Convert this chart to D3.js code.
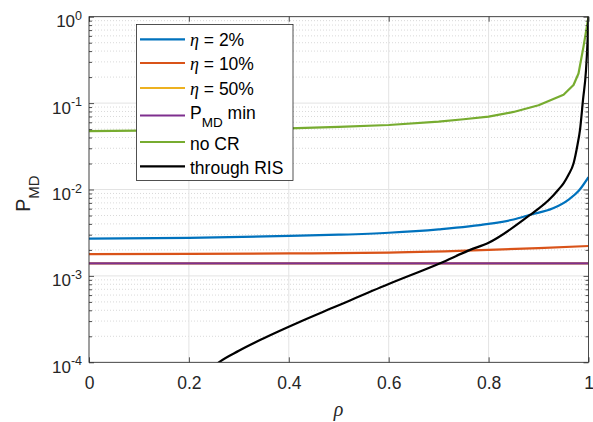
<!DOCTYPE html>
<html><head><meta charset="utf-8">
<script src="https://cdn.jsdelivr.net/npm/d3@7/dist/d3.min.js"></script>
<style>body{margin:0;background:#fff}svg{display:block}</style>
</head><body>
<svg id="c" width="593" height="422"></svg>
<script>
// ---- data ----
const rhoNoCR  = [0, 0.1, 0.2, 0.3, 0.4, 0.5, 0.6, 0.7, 0.75, 0.8, 0.85, 0.9, 0.95, 0.97, 0.98, 0.99, 1.0];
const valNoCR  = [0.0475, 0.048, 0.049, 0.050, 0.051, 0.053, 0.0558, 0.061, 0.065, 0.0696, 0.079, 0.0945, 0.125, 0.162, 0.22, 0.45, 1.0];

const rhoEta2  = [0, 0.2, 0.4, 0.5, 0.6, 0.7, 0.8, 0.85, 0.883, 0.929, 0.961, 0.98, 1.0];
const valEta2  = [0.0027, 0.00275, 0.0029, 0.0030, 0.00316, 0.00346, 0.0040, 0.0045, 0.0051, 0.00605, 0.0077, 0.0096, 0.0139];

const rhoEta10 = [0, 0.2, 0.4, 0.6, 0.8, 0.9, 1.0];
const valEta10 = [0.00179, 0.0018, 0.00182, 0.00186, 0.0020, 0.0021, 0.00222];

const rhoEta50 = [0, 1.0];
const valEta50 = [0.0014, 0.0014];

const rhoMin   = [0, 1.0];
const valMin   = [0.0014, 0.0014];

const rhoRIS   = [0.25, 0.26, 0.3, 0.35, 0.4226, 0.489, 0.6, 0.703, 0.763, 0.8, 0.883, 0.9, 0.92, 0.94, 0.95, 0.96, 0.97, 0.978, 0.983, 0.989, 0.995, 0.998, 1.0];
const valRIS   = [0.9e-4, 1.0e-4, 1.36e-4, 1.9e-4, 2.95e-4, 4.3e-4, 8.05e-4, 1.4e-3, 2.0e-3, 2.42e-3, 5.07e-3, 6.0e-3, 7.5e-3, 1.0e-2, 1.18e-2, 1.48e-2, 2.0e-2, 3.3e-2, 4.9e-2, 0.109, 0.24, 0.5, 1.0];

const xTicks = [0, 0.2, 0.4, 0.6, 0.8, 1];
const xTickLabels = ["0", "0.2", "0.4", "0.6", "0.8", "1"];
const yTicks = [1e-4, 1e-3, 1e-2, 1e-1, 1];
const yTickExps = ["-4", "-3", "-2", "-1", "0"];

const seriesNames = ["η = 2%", "η = 10%", "η = 50%", "PMD min", "no CR", "through RIS"];
const seriesColors = ["#0072BD", "#D95319", "#EDB120", "#7E2F8E", "#77AC30", "#000000"];

// ---- layout ----
const L = 89, R = 588.5, T = 16.7, B = 362.3;
const svg = d3.select("#c");
const x = d3.scaleLinear().domain([0, 1]).range([L, R]);
const y = d3.scaleLog().domain([1e-4, 1]).range([B, T]);
const axisCol = "#262626";

// minor grid (y, log)
const minor = [];
for (let e = -4; e < 0; e++) for (let m = 2; m <= 9; m++) minor.push(m * Math.pow(10, e));
svg.append("g").selectAll("line").data(minor).join("line")
  .attr("x1", L).attr("x2", R).attr("y1", d => y(d)).attr("y2", d => y(d))
  .attr("stroke", "#cfcfcf").attr("stroke-width", 0.8).attr("stroke-dasharray", "1,2");
// major grid
svg.append("g").selectAll("line").data(yTicks).join("line")
  .attr("x1", L).attr("x2", R).attr("y1", d => y(d)).attr("y2", d => y(d))
  .attr("stroke", "#e3e3e3").attr("stroke-width", 1);
svg.append("g").selectAll("line").data(xTicks).join("line")
  .attr("y1", T).attr("y2", B).attr("x1", d => x(d)).attr("x2", d => x(d))
  .attr("stroke", "#e3e3e3").attr("stroke-width", 1);

// data lines
svg.append("clipPath").attr("id", "clip").append("rect")
  .attr("x", L).attr("y", T - 1).attr("width", R - L).attr("height", B - T + 1);
const series = [
  {r: rhoEta2, v: valEta2, c: seriesColors[0], curve: d3.curveMonotoneX},
  {r: rhoEta10, v: valEta10, c: seriesColors[1], curve: d3.curveMonotoneX},
  {r: rhoEta50, v: valEta50, c: seriesColors[2], curve: d3.curveLinear},
  {r: rhoMin, v: valMin, c: seriesColors[3], curve: d3.curveLinear},
  {r: rhoNoCR, v: valNoCR, c: seriesColors[4], curve: d3.curveLinear},
  {r: rhoRIS, v: valRIS, c: seriesColors[5], curve: d3.curveMonotoneX}
];
const gLines = svg.append("g").attr("clip-path", "url(#clip)");
series.forEach(s => {
  const pts = s.r.map((r, i) => [x(r), y(s.v[i])]);
  gLines.append("path").attr("d", d3.line().curve(s.curve)(pts))
    .attr("fill", "none").attr("stroke", s.c).attr("stroke-width", 2.2)
    .attr("stroke-linejoin", "round");
});

// axes
const fontSans = "'Liberation Sans', Arial, Helvetica, sans-serif";
const gx = svg.append("g").attr("transform", `translate(0,${B})`)
  .call(d3.axisBottom(x).tickValues(xTicks).tickFormat((d, i) => xTickLabels[i]).tickSize(-5).tickSizeOuter(0).tickPadding(14));
gx.select(".domain").remove();
gx.selectAll("line").attr("stroke", axisCol).attr("stroke-width", 0.8);
gx.selectAll("text").attr("font-family", fontSans).attr("font-size", 17.5).attr("fill", axisCol);

const gxt = svg.append("g").attr("transform", `translate(0,${T})`)
  .call(d3.axisTop(x).tickValues(xTicks).tickFormat("").tickSize(-5).tickSizeOuter(0));
gxt.select(".domain").remove();
gxt.selectAll("line").attr("stroke", axisCol).attr("stroke-width", 0.8);

const gy = svg.append("g").attr("transform", `translate(${L},0)`)
  .call(d3.axisLeft(y).tickValues(yTicks).tickFormat("").tickSize(-5).tickSizeOuter(0));
gy.select(".domain").remove();
gy.selectAll("line").attr("stroke", axisCol).attr("stroke-width", 0.8);
const gym = svg.append("g").attr("transform", `translate(${L},0)`)
  .call(d3.axisLeft(y).tickValues(minor).tickFormat("").tickSize(-3).tickSizeOuter(0));
gym.select(".domain").remove();
gym.selectAll("line").attr("stroke", axisCol).attr("stroke-width", 0.8);
const gyr = svg.append("g").attr("transform", `translate(${R},0)`)
  .call(d3.axisRight(y).tickValues(yTicks).tickFormat("").tickSize(-5).tickSizeOuter(0));
gyr.select(".domain").remove();
gyr.selectAll("line").attr("stroke", axisCol).attr("stroke-width", 0.8);
const gyrm = svg.append("g").attr("transform", `translate(${R},0)`)
  .call(d3.axisRight(y).tickValues(minor).tickFormat("").tickSize(-3).tickSizeOuter(0));
gyrm.select(".domain").remove();
gyrm.selectAll("line").attr("stroke", axisCol).attr("stroke-width", 0.8);

// y tick labels 10^n
yTicks.forEach((t, i) => {
  const tx = svg.append("text").attr("x", 82).attr("y", y(t) + 10.5)
    .attr("text-anchor", "end").attr("font-family", fontSans).attr("fill", axisCol);
  tx.append("tspan").attr("font-size", 17).text("10");
  tx.append("tspan").attr("font-size", 12.5).attr("dy", -7.5).text(yTickExps[i]);
});

// box
svg.append("rect").attr("x", L).attr("y", T).attr("width", R - L).attr("height", B - T)
  .attr("fill", "none").attr("stroke", axisCol).attr("stroke-width", 0.8);

// axis labels
const yl = svg.append("text").attr("transform", "translate(30,193.5) rotate(-90)")
  .attr("text-anchor", "middle").attr("font-family", fontSans).attr("fill", axisCol);
yl.append("tspan").attr("font-size", 19.5).text("P");
yl.append("tspan").attr("font-size", 15).attr("dy", 9).text("MD");

svg.append("text").attr("x", 338.5).attr("y", 415.5).attr("text-anchor", "middle")
  .attr("font-family", "'Liberation Serif', 'Times New Roman', serif").attr("font-style", "italic")
  .attr("font-size", 20).attr("fill", axisCol).text("ρ");

// legend
const lg = svg.append("g");
lg.append("rect").attr("x", 136.5).attr("y", 24.5).attr("width", 156.5).attr("height", 156)
  .attr("fill", "#fff").attr("stroke", axisCol).attr("stroke-width", 0.8);
const rowY = [39.3, 63, 88, 115.5, 142, 166.3];
seriesNames.forEach((name, i) => {
  const yy = rowY[i];
  lg.append("line").attr("x1", 140).attr("x2", 185).attr("y1", yy).attr("y2", yy)
    .attr("stroke", seriesColors[i]).attr("stroke-width", 2.2);
  const t = lg.append("text").attr("x", 190).attr("font-family", fontSans)
    .attr("font-size", 17.5).attr("fill", "#000");
  if (name.startsWith("η")) {
    t.attr("y", yy + 7);
    t.append("tspan").attr("font-family", "'Liberation Serif', 'Times New Roman', serif")
      .attr("font-style", "italic").attr("font-size", 18).text("η");
    t.append("tspan").text(name.slice(1));
  } else if (name.startsWith("PMD")) {
    t.attr("y", yy + 3.8);
    t.append("tspan").text("P");
    t.append("tspan").attr("font-size", 13.5).attr("dy", 7.5).text("MD");
    t.append("tspan").attr("dy", -7.5).text(" min");
  } else {
    t.attr("y", yy + 7.5).text(name);
  }
});
</script>
</body></html>
